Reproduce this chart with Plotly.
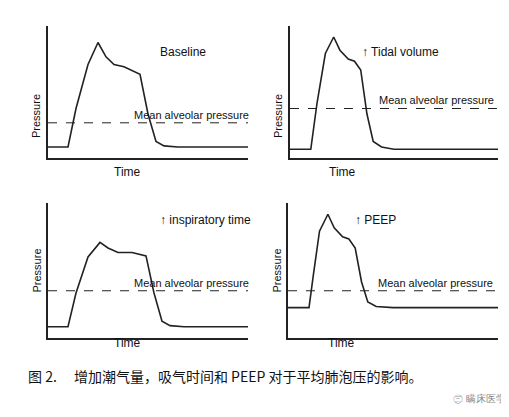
import plotly.graph_objects as go

t_base = [0, 1.0, 1.4, 2.0, 2.5, 2.9, 3.3, 3.8, 4.6, 5.0, 5.4, 5.8, 6.5, 8.0, 10]
baseline = [0.1, 0.1, 0.45, 0.85, 1.05, 0.92, 0.85, 0.83, 0.76, 0.4, 0.15, 0.11, 0.1, 0.1, 0.1]
t_tidal = [0, 1.0, 1.3, 1.7, 2.1, 2.4, 2.8, 3.1, 3.4, 3.7, 4.0, 4.4, 5.0, 7.0, 10]
tidal = [0.08, 0.08, 0.5, 0.95, 1.1, 0.98, 0.9, 0.88, 0.8, 0.4, 0.15, 0.1, 0.08, 0.08, 0.08]
t_insp = [0, 1.0, 1.4, 2.0, 2.6, 3.0, 3.5, 4.2, 4.9, 5.3, 5.7, 6.1, 6.8, 8.0, 10]
insp = [0.1, 0.1, 0.4, 0.72, 0.85, 0.8, 0.76, 0.76, 0.73, 0.4, 0.15, 0.11, 0.1, 0.1, 0.1]
t_peep = [0, 1.0, 1.2, 1.5, 1.9, 2.2, 2.6, 2.9, 3.2, 3.5, 3.8, 4.2, 5.0, 7.0, 10]
peep = [0.27, 0.27, 0.55, 0.95, 1.1, 0.98, 0.9, 0.88, 0.8, 0.5, 0.32, 0.28, 0.27, 0.27, 0.27]
mean_p = [0.32, 0.45, 0.42, 0.42]
titles = ["Baseline", "↑ Tidal volume", "↑ inspiratory time", "↑ PEEP"]
series = [(t_base, baseline), (t_tidal, tidal), (t_insp, insp), (t_peep, peep)]

W, H = 509, 417
boxes = [(40, 240, 18, 150), (282, 490, 18, 150), (40, 240, 195, 330), (280, 490, 195, 330)]
title_pos = [(150, 35), (352, 35), (150, 212), (345, 212)]

fig = go.Figure()
lay = {}
for i, ((xs, ys), (x0, x1, y0, y1)) in enumerate(zip(series, boxes)):
    n = "" if i == 0 else str(i + 1)
    fig.add_trace(go.Scatter(x=xs, y=ys, mode="lines", line=dict(color="#222", width=1.6),
                             xaxis="x" + n, yaxis="y" + n, showlegend=False))
    fig.add_trace(go.Scatter(x=[0, 10], y=[mean_p[i]] * 2, mode="lines",
                             line=dict(color="#222", width=1, dash="dash"),
                             xaxis="x" + n, yaxis="y" + n, showlegend=False))
    ax = dict(showline=True, linecolor="#222", linewidth=1.5, showgrid=False, zeroline=False,
              showticklabels=False, ticks="")
    lay["xaxis" + n] = dict(ax, domain=[x0 / W, x1 / W], range=[0, 10], anchor="y" + n)
    lay["yaxis" + n] = dict(ax, domain=[1 - y1 / H, 1 - y0 / H], range=[0, 1.2], anchor="x" + n)
    fig.add_annotation(x=(x0 + x1) / 2 / W - 0.07, y=1 - (y1 + 14) / H, xref="paper", yref="paper",
                       text="Time", showarrow=False, font=dict(size=12))
    fig.add_annotation(x=(x0 - 4) / W, y=1 - (y0 + y1) / 2 / H, xref="paper", yref="paper",
                       xanchor="right", text="Pressure", textangle=-90, showarrow=False,
                       font=dict(size=11))
    fig.add_annotation(x=title_pos[i][0] / W, y=1 - title_pos[i][1] / H, xref="paper", yref="paper",
                       text=titles[i], showarrow=False, xanchor="left", font=dict(size=12))
    fig.add_annotation(x=4.2, y=mean_p[i], xref="x" + n, yref="y" + n, text="Mean alveolar pressure",
                       showarrow=False, xanchor="left", yanchor="bottom", font=dict(size=11))

fig.add_annotation(x=18 / W, y=1 - 380 / H, xref="paper", yref="paper", xanchor="left",
                   text="图 2.　 增加潮气量，吸气时间和 PEEP 对于平均肺泡压的影响。",
                   showarrow=False, font=dict(size=14, family="Noto Sans CJK SC, serif"))
fig.add_annotation(x=500 / W, y=1 - 398 / H, xref="paper", yref="paper", xanchor="right",
                   text="㊂ 瞒床医学", showarrow=False, font=dict(size=10, color="#888"))

fig.update_layout(width=W, height=H, margin=dict(l=0, r=0, t=0, b=0), paper_bgcolor="white",
                  plot_bgcolor="white", font=dict(family="Liberation Sans", color="#111"), **lay)
fig.write_html("out.html")
